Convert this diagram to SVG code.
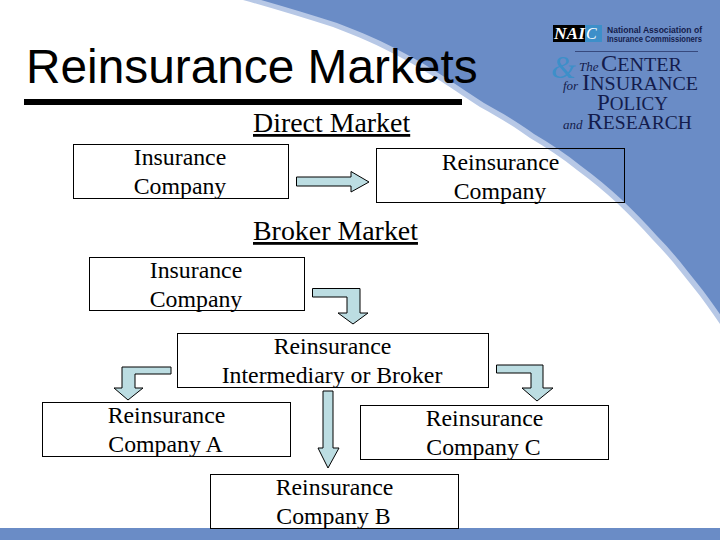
<svg xmlns="http://www.w3.org/2000/svg" width="720" height="540" viewBox="0 0 720 540">
<style>
.box{fill:none;stroke:#000;stroke-width:1}
.arrow{fill:#bcdde2;stroke:#000;stroke-width:1}
text{font-family:"Liberation Serif","Times New Roman",serif;fill:#000}
.t{font-size:23.8px;text-anchor:middle}
.h{font-size:27.9px;text-decoration:underline}
.navy{fill:#141c4c}
.sans{font-family:"Liberation Sans",Arial,sans-serif}
</style>
<rect width="720" height="540" fill="#fff"/>
<g id="background">
<defs><path id="edge" d="M243 0C275 9 305 18 333 27C357 36 380 46 400 57C425 70 445 84 480 107C500 118 515 127 530 138C547 148 562 158 577 170C592 181 605 192 617 203C630 215 642 228 653 240C668 255 681 272 693 287C702 298 711 311 720 324L730 324V-10H243Z"/></defs>
<use href="#edge" fill="#b7c8e6"/>
<use href="#edge" fill="#6a8cc6" transform="translate(4 -4)"/>
<rect y="528" width="720" height="12" fill="#6a8cc6"/>
</g>
<g id="title">
<text x="26" y="83" font-size="47.8px" class="sans">Reinsurance Markets</text>
<rect x="24" y="99" width="438" height="6" fill="#000"/>
</g>
<g id="logo">
<rect x="553" y="25" width="32" height="17" fill="#000"/>
<rect x="585" y="25" width="17" height="17" fill="#3d8fc9"/>
<text x="554" y="39" font-size="16px" font-weight="bold" font-style="italic" textLength="31" lengthAdjust="spacingAndGlyphs" style="fill:#fff">NAI</text>
<text x="586" y="39" font-size="16px" font-style="italic" style="fill:#fff">C</text>
<text x="607" y="33" font-size="8.600px" font-weight="bold" class="navy sans" textLength="95" lengthAdjust="spacingAndGlyphs">National Association of</text>
<text x="607" y="42" font-size="8.600px" font-weight="bold" class="navy sans" textLength="95" lengthAdjust="spacingAndGlyphs">Insurance Commissioners</text>
<path d="M575 51.500H698" stroke="#141c4c" stroke-width="0.600" fill="none"/>
<text x="551" y="78" font-size="32px" font-style="italic" style="fill:#3d8fc9">&amp;</text>
<text x="579" y="71" font-size="13px" font-style="italic" class="navy">The</text>
<text x="601" y="71" font-size="23px" class="navy" textLength="81" lengthAdjust="spacingAndGlyphs">C<tspan font-size="19px">ENTER</tspan></text>
<text x="563" y="90" font-size="13px" font-style="italic" class="navy">for</text>
<text x="582" y="90" font-size="23px" class="navy" textLength="116" lengthAdjust="spacingAndGlyphs">I<tspan font-size="19px">NSURANCE</tspan></text>
<text x="597" y="110" font-size="23px" class="navy" textLength="71" lengthAdjust="spacingAndGlyphs">P<tspan font-size="19px">OLICY</tspan></text>
<text x="563" y="129" font-size="13px" font-style="italic" class="navy">and</text>
<text x="587" y="129" font-size="23px" class="navy" textLength="105" lengthAdjust="spacingAndGlyphs">R<tspan font-size="19px">ESEARCH</tspan></text>
</g>
<g id="direct-heading"><text class="h" x="253" y="132">Direct Market</text></g>
<g id="direct-insurance">
<rect class="box" x="73.500" y="144.500" width="215" height="54"/>
<text class="t" x="180" y="165">Insurance</text>
<text class="t" x="180" y="194">Company</text>
</g>
<g id="direct-reinsurance">
<rect class="box" x="376.500" y="148.500" width="248" height="54"/>
<text class="t" x="500.500" y="170">Reinsurance</text>
<text class="t" x="500" y="199">Company</text>
</g>
<g id="broker-heading"><text class="h" x="253" y="240">Broker Market</text></g>
<g id="broker-insurance">
<rect class="box" x="89.500" y="257.500" width="215" height="53"/>
<text class="t" x="196" y="278">Insurance</text>
<text class="t" x="196" y="307">Company</text>
</g>
<g id="intermediary">
<rect class="box" x="177.500" y="333.500" width="311" height="54"/>
<text class="t" x="332.500" y="354">Reinsurance</text>
<text class="t" x="332" y="383">Intermediary or Broker</text>
</g>
<g id="company-a">
<rect class="box" x="42.500" y="402.500" width="248" height="54"/>
<text class="t" x="166.500" y="423">Reinsurance</text>
<text class="t" x="165.500" y="452">Company A</text>
</g>
<g id="company-c">
<rect class="box" x="360.500" y="405.500" width="248" height="54"/>
<text class="t" x="484.500" y="426">Reinsurance</text>
<text class="t" x="483.500" y="455">Company C</text>
</g>
<g id="company-b">
<rect class="box" x="210.500" y="474.500" width="248" height="54"/>
<text class="t" x="334.500" y="495">Reinsurance</text>
<text class="t" x="333.500" y="524">Company B</text>
</g>
<g id="connectors">
<path class="arrow" d="M296.500 177H351V171.500L369 182L351 192V186H296.500Z"/>
<path class="arrow" d="M312.500 288.500H360V313H368L353 324L338 313H347V297H312.500Z"/>
<path class="arrow" d="M171 367H122V388H114L128 400L143 388H135V374H171Z"/>
<path class="arrow" d="M323 391H333V448H339L328 468L318 448H323Z"/>
<path class="arrow" d="M496.500 365H543V388H553L537 401L522 388H531V373H496.500Z"/>
</g>
</svg>
